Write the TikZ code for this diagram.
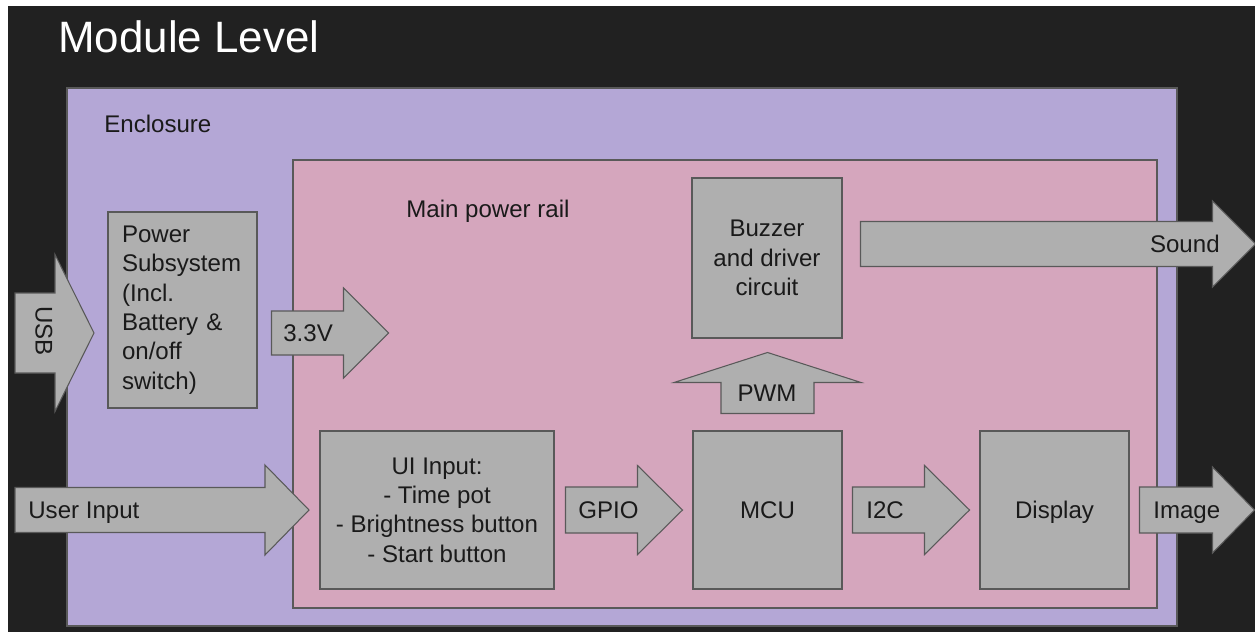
\documentclass[tikz,border=0pt]{standalone}
\usepackage{fontspec}
\setmainfont{Liberation Sans}
\usetikzlibrary{calc}
\definecolor{BgDark}{HTML}{212121}
\definecolor{EnclPurple}{HTML}{B4A7D6}
\definecolor{RailPink}{HTML}{D5A6BD}
\definecolor{BoxGray}{HTML}{AFAFAF}
\definecolor{EdgeGray}{HTML}{595959}
\definecolor{InkBlack}{HTML}{1A1A1A}
\newcommand{\diagfont}{\fontsize{13.7}{16.7}\selectfont}
\newcommand{\headfont}{\fontsize{25}{30}\selectfont}
\tikzset{
  headline/.style={text=white, font=\headfont, inner sep=0pt},
  txt/.style={text=InkBlack, font=\diagfont, inner sep=0pt},
  enclosure/.style={draw=EdgeGray, line width=0.6pt, fill=EnclPurple},
  rail/.style={draw=EdgeGray, line width=0.6pt, fill=RailPink},
  block/.style={draw=EdgeGray, line width=0.6pt, fill=BoxGray, inner sep=0pt, text=InkBlack, font=\diagfont},
  oneline/.style={text height=9.8pt, text depth=0pt},
  fatarrow/.style={draw=EdgeGray, line width=0.6pt, fill=BoxGray, line join=miter}
}
% block arrow: [rotation]{tail}{length}{head length}{shaft half width}{head half width}
\newcommand{\blockarrow}[6][0]{%
  \draw[fatarrow, shift={(#2)}, rotate=#1]
    (0,-#5) -- (#3-#4,-#5) -- (#3-#4,-#6) -- (#3,0) -- (#3-#4,#6) -- (#3-#4,#5) -- (0,#5) -- cycle;}

\begin{document}
\begin{tikzpicture}[x=0.02cm, y=-0.02cm]
\useasboundingbox (0,0) rectangle (1255,632);
\fill[white] (0,0) rectangle (1255,632);
\fill[BgDark] (8,6) rectangle (1255,632);
\node[headline, anchor=base west] (title) at (58,52) {Module Level};

% containers
\draw[enclosure] (67,88) rectangle (1177,626);
\node[txt, anchor=base west] (encltext) at (104,132) {Enclosure};
\draw[rail] (293,160) rectangle (1157,608);
\node[txt, anchor=base west] (railtext) at (406,217) {Main power rail};

% blocks
\node[block, minimum width=2.98cm, minimum height=3.92cm, text width=2.42cm, align=left] (power) at (182.5,310) {Power\\Subsystem\\(Incl.\\Battery \&\\on/off\\switch)};
\node[block, align=center, minimum width=3cm, minimum height=3.2cm] (buzzer) at (767,258) {Buzzer\\and driver\\circuit};
\node[block, align=center, minimum width=4.68cm, minimum height=3.16cm] (ui) at (437,510) {UI Input:\\- Time pot\\- Brightness button\\- Start button};
\node[block, oneline, minimum width=2.98cm, minimum height=3.16cm] (mcu) at (767.5,510) {MCU};
\node[block, oneline, minimum width=2.98cm, minimum height=3.16cm] (display) at (1054.5,510) {Display};

% arrow tails
\coordinate (usbtail) at (15,333);
\coordinate (usertail) at (15,510);
\coordinate (v33tail) at ($(power.east)+(14,23)$);
\coordinate (gpiotail) at ($(ui.east)+(11,0)$);
\coordinate (i2ctail) at ($(mcu.east)+(10,0)$);
\coordinate (imagetail) at ($(display.east)+(10,0)$);
\coordinate (soundtail) at ($(buzzer.east)+(18,-14)$);
\coordinate (pwmtail) at ($(mcu.north)+(0,-17)$);

% block arrows
\blockarrow{usbtail}{79}{39}{40}{78.5}
\blockarrow{v33tail}{117}{45}{22}{45}
\blockarrow{usertail}{294}{44}{22.5}{45}
\blockarrow{gpiotail}{117}{45}{23}{44.5}
\blockarrow{i2ctail}{117}{45}{23}{44.5}
\blockarrow{imagetail}{115}{42}{23}{43}
\blockarrow{soundtail}{395}{43}{22.5}{43}
\blockarrow[90]{pwmtail}{61}{30}{46.5}{93.5}

% arrow labels
\node[txt, rotate=-90] (usbtext) at (44,331) {USB};
\node[txt, anchor=base west] (v33text) at (283,341.5) {3.3V};
\node[txt, anchor=base west] (usertext) at (28,518.5) {User Input};
\node[txt, anchor=base west] (gpiotext) at (578,518.5) {GPIO};
\node[txt, anchor=base west] (i2ctext) at (866,518.5) {I2C};
\node[txt, anchor=base west] (imagetext) at (1153,518.5) {Image};
\node[txt, anchor=base east] (soundtext) at (1220,252.5) {Sound};
\node[txt] (pwmtext) at (767,393) {PWM};
\end{tikzpicture}
\end{document}
